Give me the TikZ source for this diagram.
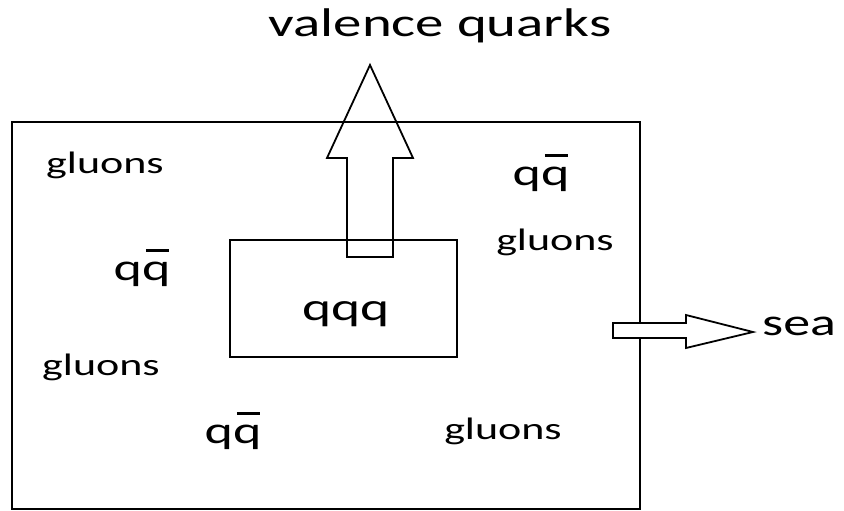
\documentclass[tikz,border=0pt]{standalone}
\usepackage{fontspec}
\setmainfont{Carlito}[FakeStretch=1.42]
\newcommand\qbarx{\leavevmode\makebox[0pt][l]{\hspace{0.1em}\raisebox{0.74em}{\rule{0.62em}{0.065em}}}q}
\tikzset{
  lbl/.style={inner sep=0pt, anchor=base, text=black},
  big/.style={lbl, font=\fontsize{38}{44}\selectfont},
  small/.style={lbl, font=\fontsize{31}{36}\selectfont},
  frame/.style={draw=black, line width=2.2pt},
  blockarrow/.style={draw=black, line width=1.8pt, line join=miter},
}
\begin{document}
\begin{tikzpicture}[x=1pt,y=-1pt]
\useasboundingbox (0,0) rectangle (844,511);
% outer box
\draw[frame] (12,122) rectangle (640,509);
% inner box
\draw[frame] (230,240) rectangle (457,357);
% up arrow (outline only)
\coordinate (ut) at (370,65);
\draw[blockarrow] (347,257) -- (347,158) -- (327,158) -- (ut) -- (413,158) -- (393,158) -- (393,257) -- cycle;
% right arrow (filled white)
\coordinate (rt) at (753,332);
\draw[blockarrow, fill=white] (613,323) -- (686,323) -- (686,315) -- (rt) -- (686,348) -- (686,338) -- (613,338) -- cycle;
% texts
\node[lbl, font=\fontsize{40}{46}\selectfont] (title) at (440,37) {valence quarks};
\node[big, anchor=base west] (sea) at (762,335) {sea};
\node[big, font=\fontsize{39}{44}\selectfont] (qqq) at (346,320) {qqq};
\node[small] (g1) at (105,173) {gluons};
\node[small] (g2) at (555,250) {gluons};
\node[small] (g3) at (101,375) {gluons};
\node[small] (g4) at (503,439) {gluons};
\node[big] (q1) at (541,185) {q\qbarx};
\node[big] (q2) at (142,280) {q\qbarx};
\node[big] (q3) at (233,443) {q\qbarx};
\end{tikzpicture}
\end{document}
